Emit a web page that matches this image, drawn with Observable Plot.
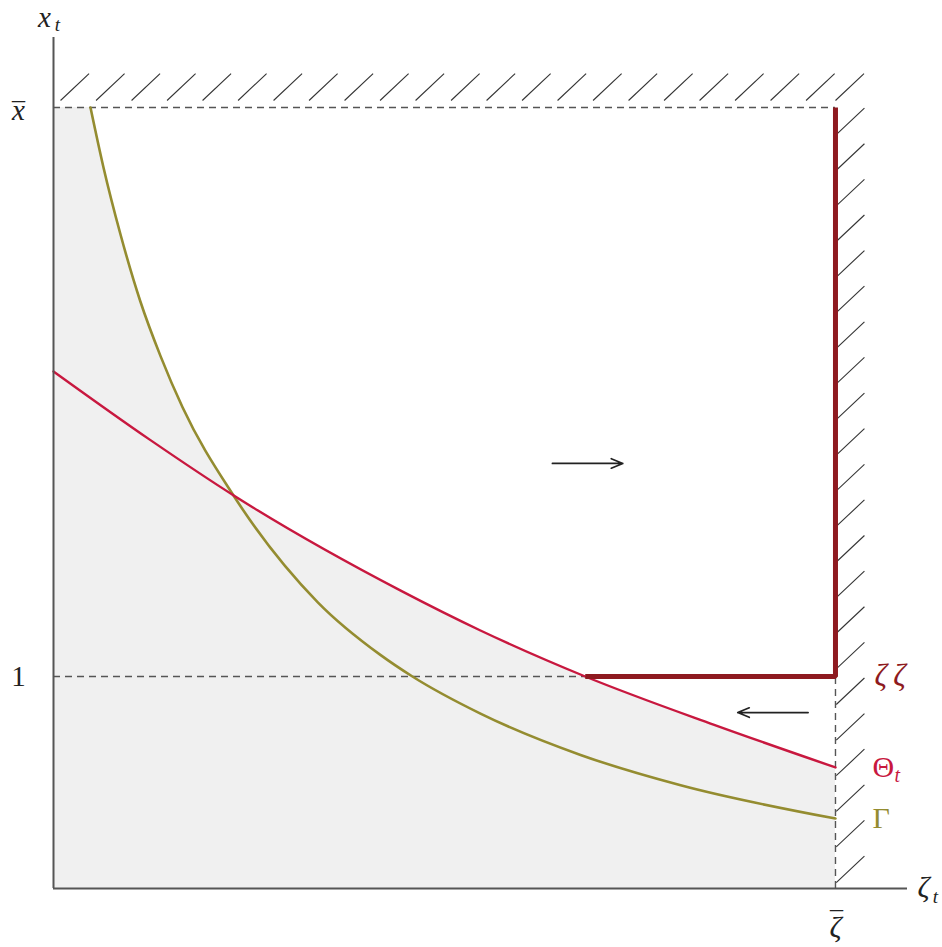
<!DOCTYPE html>
<html>
<head>
<meta charset="utf-8">
<script src="https://cdn.jsdelivr.net/npm/d3@7"></script>
<script src="https://cdn.jsdelivr.net/npm/@observablehq/plot@0.6"></script>
<style>
  html, body { margin: 0; padding: 0; background: #fff; }
</style>
</head>
<body>
<div id="chart"></div>
<script>
// ---- data ----
const zetaBar = 1;
const xBar = 3.684;
const thetaX = [0, 0.124, 0.230, 0.444, 0.546, 0.680, 0.844, 1.0];
const thetaY = [2.439, 2.115, 1.855, 1.405, 1.217, 1.000, 0.773, 0.571];
const gammaX = [0.0473, 0.064, 0.0857, 0.111, 0.137, 0.165, 0.230, 0.338, 0.418, 0.459, 0.546, 0.674, 0.802, 1.0];
const gammaY = [3.684, 3.400, 3.085, 2.770, 2.510, 2.270, 1.855, 1.350, 1.102, 1.000, 0.825, 0.630, 0.487, 0.330];
const thetaCrossOne = 0.680;       // where Θ meets x = 1
const yTickValues = [1, xBar];
const yTickLabels = ["1", "x"];
const xTickValues = [zetaBar];
const xTickLabels = ["\u03B6"];
const arrowsX1 = [0.638, 0.965];
const arrowsX2 = [0.728, 0.875];
const arrowsY = [2.005, 0.830];

const theta = thetaX.map((x, i) => ({x, y: thetaY[i]}));
const gamma = gammaX.map((x, i) => ({x, y: gammaY[i]}));
const thick = [{x: thetaCrossOne, y: 1}, {x: zetaBar, y: 1}, {x: zetaBar, y: xBar}];
const arrows = arrowsX1.map((x1, i) => ({x1, x2: arrowsX2[i], y: arrowsY[i]}));

// hatch pattern (decorative, generated in data units)
const topHatch = d3.range(22).map(k => 0.0090 + k * 0.0454).concat([1.0]).map(x => ({x1: x, y1: 3.717, x2: x + 0.0365, y2: 3.844}));
const rightHatch = d3.range(22).map(k => 0.028 + k * 0.168).map(y => ({x1: 1.001, y1: y, x2: 1.037, y2: y + 0.125}));

const xMax = 1.0921, yMax = 4.0142;
const serif = "'Liberation Serif', 'Times New Roman', serif";
const red = "#c8183f", olive = "#948c30", dark = "#8e1a20", ink = "#555", txt = "#222";

const chart = Plot.plot({
  width: 942,
  height: 947,
  marginLeft: 53,
  marginRight: 35,
  marginTop: 37,
  marginBottom: 59,
  x: {domain: [0, xMax], axis: null},
  y: {domain: [0, yMax], axis: null},
  style: {fontFamily: serif, background: "#fff"},
  marks: [
    // shaded region below max(Θ, Γ), capped at x̄
    Plot.rect([{x1: 0, x2: gammaX[0], y1: 0, y2: xBar}], {x1: "x1", x2: "x2", y1: "y1", y2: "y2", fill: "#f0f0f0"}),
    Plot.areaY(gamma, {x: "x", y: "y", fill: "#f0f0f0", curve: "monotone-x"}),
    Plot.areaY(theta, {x: "x", y: "y", fill: "#f0f0f0", curve: "monotone-x"}),
    // hatching
    Plot.link(topHatch, {x1: "x1", y1: "y1", x2: "x2", y2: "y2", stroke: "#333", strokeWidth: 1.1}),
    Plot.link(rightHatch, {x1: "x1", y1: "y1", x2: "x2", y2: "y2", stroke: "#333", strokeWidth: 1.1}),
    // dashed guides
    Plot.ruleY([xBar], {x1: 0, x2: zetaBar, stroke: ink, strokeWidth: 1.4, strokeDasharray: "7,5"}),
    Plot.ruleY([1], {x1: 0, x2: thetaCrossOne, stroke: ink, strokeWidth: 1.4, strokeDasharray: "7,5"}),
    Plot.ruleX([zetaBar], {y1: 0, y2: 1, stroke: ink, strokeWidth: 1.4, strokeDasharray: "7,5"}),
    // curves
    Plot.line(gamma, {x: "x", y: "y", stroke: olive, strokeWidth: 2.6, curve: "monotone-x"}),
    Plot.line(theta, {x: "x", y: "y", stroke: red, strokeWidth: 2.4, curve: "monotone-x"}),
    Plot.line(thick, {x: "x", y: "y", stroke: dark, strokeWidth: 5, strokeLinejoin: "miter", strokeLinecap: "butt"}),
    // arrows
    Plot.arrow(arrows, {x1: "x1", x2: "x2", y1: "y", y2: "y", stroke: "#222", strokeWidth: 1.7, headLength: 11, headAngle: 45}),
    // axes
    Plot.ruleX([0], {y1: 0, y2: yMax, stroke: ink, strokeWidth: 2}),
    Plot.ruleY([0], {x1: 0, x2: xMax, stroke: ink, strokeWidth: 2}),
    // tick labels
    Plot.text([yTickValues[0]], {x: 0, y: d => d, text: [yTickLabels[0]], dx: -35, textAnchor: "middle", fontSize: 29, fill: txt}),
    Plot.text([yTickValues[1]], {x: 0, y: d => d, text: [yTickLabels[1]], dx: -35, dy: 3, textAnchor: "middle", fontSize: 29, fontStyle: "italic", fill: txt}),
    Plot.text([yTickValues[1]], {x: 0, y: d => d, text: ["\u00AF"], dx: -35, dy: 4, textAnchor: "middle", fontSize: 26, fill: txt}),
    Plot.text(xTickValues, {x: d => d, y: 0, text: xTickLabels, dy: 39, textAnchor: "middle", fontSize: 30, fontStyle: "italic", fill: txt}),
    Plot.text(xTickValues, {x: d => d, y: 0, text: ["\u00AF"], dx: 1, dy: 32, textAnchor: "middle", fontSize: 26, fill: txt}),
    // axis titles
    Plot.text(["x"], {x: 0, y: yMax, dx: -9, dy: -20, text: d => d, fontSize: 29, fontStyle: "italic", fill: txt}),
    Plot.text(["t"], {x: 0, y: yMax, dx: 4, dy: -13, text: d => d, fontSize: 19, fontStyle: "italic", fill: txt}),
    Plot.text(["\u03B6"], {x: xMax, y: 0, dx: 16, dy: -1, text: d => d, fontSize: 30, fontStyle: "italic", fill: txt}),
    Plot.text(["t"], {x: xMax, y: 0, dx: 28, dy: 8, text: d => d, fontSize: 19, fontStyle: "italic", fill: txt}),
    // curve labels
    Plot.text(["\u03B6\u2009\u03B6"], {x: zetaBar, y: 1, dx: 39, text: d => d, textAnchor: "start", fontSize: 31, fontStyle: "italic", fill: dark}),
    Plot.text(["\u0398"], {x: zetaBar, y: thetaY[thetaY.length - 1], dx: 37, text: d => d, textAnchor: "start", fontSize: 30, fill: red}),
    Plot.text(["t"], {x: zetaBar, y: thetaY[thetaY.length - 1], dx: 59, dy: 8, text: d => d, textAnchor: "start", fontSize: 20, fontStyle: "italic", fill: red}),
    Plot.text(["\u0393"], {x: zetaBar, y: gammaY[gammaY.length - 1], dx: 37, text: d => d, textAnchor: "start", fontSize: 30, fill: olive})
  ]
});
document.getElementById("chart").appendChild(chart);
</script>
</body>
</html>
